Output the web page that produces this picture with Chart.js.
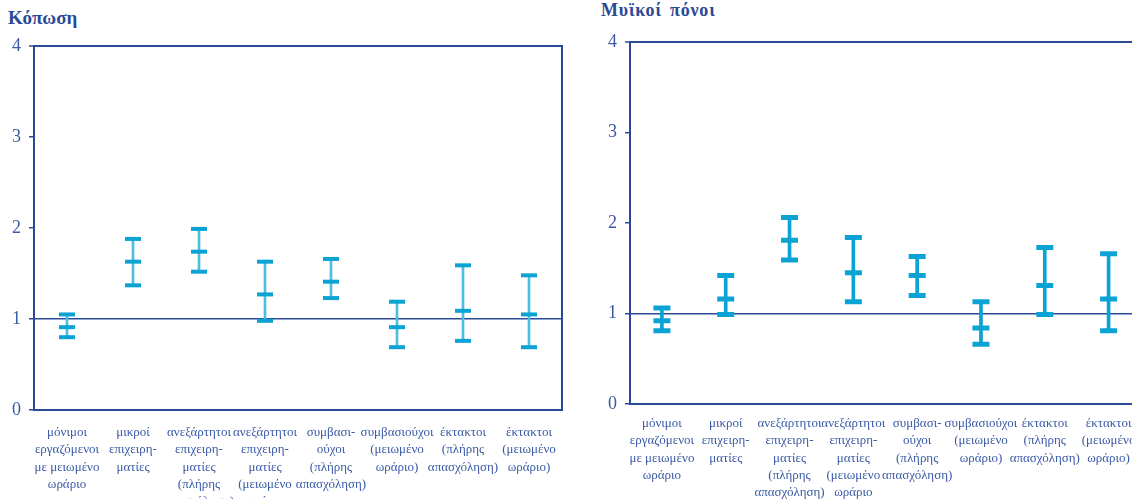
<!DOCTYPE html>
<html>
<head>
<meta charset="utf-8">
<script src="https://cdn.jsdelivr.net/npm/chart.js@4"></script>
<style>
  html, body { margin: 0; padding: 0; background: #fff; overflow: hidden; }
  body { width: 1132px; height: 499px; position: relative; }
  .panel-title { position: absolute; font-family: 'Liberation Serif', serif; font-weight: bold; color: #2b4a96; white-space: nowrap; }
  canvas { position: absolute; top: 0; }
</style>
</head>
<body>
<div class="panel-title" id="title-left" style="left:8px; top:7px; font-size:19px;">Κόπωση</div>
<div class="panel-title" id="title-right" style="left:601px; top:0px; font-size:18px; letter-spacing:0.8px; word-spacing:3px;">Μυϊκοί πόνοι</div>
<canvas id="fatigueChart" style="left:0px;"></canvas>
<canvas id="painChart" style="left:596px;"></canvas>
<script>
// Category labels (same for both panels), split into lines
const categories = [
    ['μόνιμοι', 'εργαζόμενοι', 'με μειωμένο', 'ωράριο'],
    ['μικροί', 'επιχειρη-', 'ματίες'],
    ['ανεξάρτητοι', 'επιχειρη-', 'ματίες', '(πλήρης', 'απασχόληση)'],
    ['ανεξάρτητοι', 'επιχειρη-', 'ματίες', '(μειωμένο', 'ωράριο'],
    ['συμβασι-', 'ούχοι', '(πλήρης', 'απασχόληση)'],
    ['συμβασιούχοι', '(μειωμένο', 'ωράριο)'],
    ['έκτακτοι', '(πλήρης', 'απασχόληση)'],
    ['έκτακτοι', '(μειωμένο', 'ωράριο)']
];

// Fatigue: lower bound, estimate, upper bound
const fatigueLow  = [0.80, 1.37, 1.52, 0.98, 1.23, 0.69, 0.76, 0.69];
const fatigueMid  = [0.91, 1.63, 1.74, 1.27, 1.41, 0.91, 1.09, 1.05];
const fatigueHigh = [1.05, 1.88, 1.99, 1.63, 1.66, 1.19, 1.59, 1.48];

// Muscle pain: lower bound, estimate, upper bound
const painLow  = [0.81, 0.99, 1.59, 1.13, 1.20, 0.66, 0.99, 0.81];
const painMid  = [0.92, 1.16, 1.81, 1.45, 1.42, 0.84, 1.31, 1.16];
const painHigh = [1.06, 1.42, 2.06, 1.84, 1.63, 1.13, 1.73, 1.66];

const yTicks = [0, 1, 2, 3, 4];
const refLine = 1;

const axisBlue = '#2b4a96';
const textBlue = '#3a5aa6';
const barBlue = '#0aa3d3';

function buildPanel(canvasId, low, mid, high, cfg) {
    const canvas = document.getElementById(canvasId);
    canvas.width = cfg.width;
    canvas.height = 499;
    canvas.style.width = cfg.width + 'px';
    canvas.style.height = '499px';

    const capDataset = (values) => ({
        type: 'line',
        data: values,
        showLine: false,
        pointStyle: 'line',
        pointRadius: cfg.capHalf,
        pointHoverRadius: cfg.capHalf,
        borderColor: barBlue,
        pointBorderColor: barBlue,
        pointBorderWidth: cfg.capThick,
        pointHoverBorderWidth: cfg.capThick,
        order: 1
    });

    return new Chart(canvas.getContext('2d'), {
        type: 'bar',
        data: {
            labels: categories,
            datasets: [
                {
                    // vertical stems from low to high
                    data: low.map((v, i) => [v, high[i]]),
                    backgroundColor: cfg.stemColor,
                    borderWidth: 0,
                    barThickness: cfg.stemWidth,
                    order: 2
                },
                capDataset(low),
                capDataset(mid),
                capDataset(high)
            ]
        },
        options: {
            responsive: false,
            animation: false,
            events: [],
            layout: { padding: { top: cfg.top, left: 0, right: 0, bottom: 0 } },
            plugins: {
                legend: { display: false },
                tooltip: { enabled: false }
            },
            scales: {
                x: {
                    type: 'category',
                    offset: true,
                    grid: { display: false, drawTicks: false },
                    border: { display: true, color: axisBlue, width: 2 },
                    ticks: {
                        autoSkip: false,
                        maxRotation: 0,
                        padding: cfg.labelPad,
                        color: textBlue,
                        font: { family: 'Liberation Serif', size: 13, lineHeight: 1.33 }
                    },
                    afterFit: (scale) => { scale.height = 499 - cfg.bottom; }
                },
                y: {
                    type: 'linear',
                    position: 'left',
                    min: 0,
                    max: 4,
                    afterBuildTicks: (scale) => { scale.ticks = yTicks.map(v => ({ value: v })); },
                    grid: {
                        color: (ctx) => (ctx.tick && (ctx.tick.value === refLine || ctx.tick.value === 4)) ? axisBlue : 'rgba(0,0,0,0)',
                        lineWidth: (ctx) => (ctx.tick && ctx.tick.value === 4) ? 2 : 1.5,
                        tickColor: axisBlue,
                        tickLength: 5,
                        tickWidth: 1.5
                    },
                    border: { display: true, color: axisBlue, width: 2 },
                    ticks: {
                        padding: 8,
                        color: textBlue,
                        font: { family: 'Liberation Serif', size: 18 }
                    },
                    afterFit: (scale) => { scale.width = 34; }
                },
                y2: {
                    type: 'linear',
                    position: 'right',
                    min: 0,
                    max: 4,
                    grid: { drawOnChartArea: false, drawTicks: false },
                    border: { display: true, color: axisBlue, width: 2 },
                    ticks: { display: false },
                    afterFit: (scale) => { scale.width = 4; }
                }
            }
        }
    });
}

buildPanel('fatigueChart', fatigueLow, fatigueMid, fatigueHigh, {
    width: 574, top: 46, bottom: 410, labelPad: 14,
    capHalf: 8, capThick: 4, stemWidth: 2, stemColor: '#4dbde4'
});

buildPanel('painChart', painLow, painMid, painHigh, {
    width: 558, top: 42, bottom: 404, labelPad: 11,
    capHalf: 8.5, capThick: 5, stemWidth: 3, stemColor: barBlue
});
</script>
</body>
</html>
